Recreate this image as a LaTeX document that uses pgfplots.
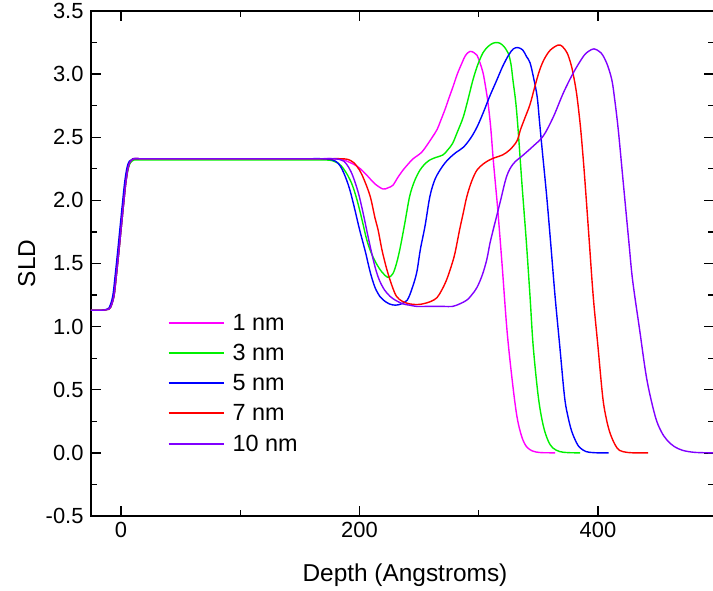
\documentclass[border=0pt]{standalone}
\usepackage{fontspec}
\setmainfont{Liberation Sans}
\usepackage{pgfplots}
\pgfplotsset{compat=1.18}
\definecolor{cpink}{RGB}{255,0,255}
\definecolor{cgreen}{RGB}{0,240,0}
\definecolor{cblue}{RGB}{0,0,255}
\definecolor{cred}{RGB}{255,0,0}
\definecolor{cpurple}{RGB}{128,0,255}
\begin{document}
\begin{tikzpicture}
\begin{axis}[
  at={(0,0)}, anchor=south west,
  scale only axis, width=623bp, height=505bp,
  xmin=-25.2, xmax=497.3, ymin=-0.5, ymax=3.5,
  xtick={0,200,400}, xticklabels={0,200,400},
  ytick={-0.5,0,0.5,1,1.5,2,2.5,3,3.5},
  yticklabels={-0.5,0.0,0.5,1.0,1.5,2.0,2.5,3.0,3.5},
  minor x tick num=1, minor y tick num=1,
  tick align=inside,
  major tick length=10bp, minor tick length=6bp,
  every tick/.style={black, line width=1.3bp},
  axis line style={line width=1.6bp},
  ticklabel style={font=\fontsize{22}{24}\selectfont},
  xticklabel style={yshift=-3bp},
  yticklabel style={xshift=-4bp},
  xlabel={Depth (Angstroms)}, ylabel={SLD},
  label style={font=\fontsize{24.5}{27}\selectfont},
  xlabel style={at={(axis description cs:0.504,-0.117)}, anchor=center},
  ylabel style={at={(axis description cs:-0.103,0.5)}, anchor=center},
  legend style={draw=none, fill=none, at={(axis description cs:0.118,0.408)}, anchor=north west,
     font=\fontsize{23.5}{26}\selectfont, row sep=8.5bp},
  legend cell align=left,
  legend image code/.code={\draw[#1, line width=2bp] (0bp,0bp) -- (55bp,0bp);},
  every axis plot/.append style={line width=1.4bp, smooth, tension=0.55},
]
% 1 nm
\addplot[cpink] coordinates {
(-30,1.13)(-20,1.13)(-15,1.13)(-12,1.135)(-9,1.15)(-6,1.24)(-4,1.40)(-2,1.58)(0,1.77)(2,1.96)(4,2.14)(6,2.26)(8,2.31)(11,2.33)(15,2.33)(22,2.33)(35,2.33)(55,2.33)(80,2.33)(110,2.33)(135,2.33)(155,2.33)(168,2.33)(177,2.33)
(185,2.325)(192,2.30)(198,2.27)(203,2.23)(208,2.18)(213,2.13)(219.7,2.09)(224,2.10)(228,2.12)(232,2.18)(236.5,2.24)(241,2.29)(245,2.33)(252,2.38)(257.5,2.45)(261,2.50)(265,2.56)(268,2.63)(271.7,2.72)(275,2.81)(278.4,2.90)(282,3.00)(286,3.09)(289,3.15)(292.7,3.18)(296,3.17)(298.5,3.15)(301,3.09)(303.6,3.01)(305.7,2.90)(307.8,2.77)(310,2.58)(312,2.34)(314,2.13)(316,1.92)(319.5,1.50)(323.7,0.97)(328,0.58)(332,0.29)(336,0.13)(340,0.05)(345,0.015)(351,0.003)(357,0.001)(364,0)
};
\addlegendentry{\hspace*{6bp}1 nm}
% 3 nm
\addplot[cgreen] coordinates {
(-30,1.13)(-20,1.13)(-15,1.13)(-12,1.135)(-9,1.15)(-6,1.24)(-4,1.40)(-2,1.58)(0,1.77)(2,1.96)(4,2.14)(6,2.25)(8,2.30)(11,2.32)(15,2.32)(22,2.32)(35,2.32)(55,2.32)(80,2.32)(110,2.32)(135,2.32)(155,2.32)(165,2.32)(172,2.32)
(177,2.315)(181,2.30)(185,2.27)(190,2.20)(194,2.12)(198,2.00)(202,1.85)(206,1.69)(210,1.58)(214.7,1.49)(219,1.43)(224,1.39)(228,1.42)(231,1.50)(234,1.62)(238,1.82)(242,2.03)(246,2.15)(250.7,2.24)(255,2.29)(259,2.32)(264,2.34)(270,2.36)(274,2.40)(278,2.45)(282,2.54)(287,2.66)(291,2.80)(295,2.95)(299,3.07)(303.6,3.17)(308,3.22)(312,3.245)(316,3.25)(320,3.23)(324.5,3.17)(327,3.08)(328.7,2.95)(331,2.78)(333,2.56)(336,2.16)(338,1.91)(340,1.66)(343,1.24)(345.7,0.84)(350,0.44)(354,0.22)(358,0.10)(362,0.04)(368,0.01)(375,0.002)(385,0)
};
\addlegendentry{\hspace*{6bp}3 nm}
% 5 nm
\addplot[cblue] coordinates {
(-30,1.13)(-21,1.13)(-16,1.13)(-13,1.135)(-10,1.15)(-7,1.24)(-5,1.40)(-3,1.58)(-1,1.77)(1,1.96)(3,2.14)(5,2.26)(7,2.31)(10,2.33)(15,2.33)(22,2.33)(35,2.33)(55,2.33)(80,2.33)(110,2.33)(135,2.33)(150,2.33)(160,2.33)(168,2.33)
(175,2.325)(180,2.31)(184,2.27)(188,2.19)(192,2.08)(196,1.93)(200,1.77)(205,1.59)(209,1.43)(213,1.31)(217,1.24)(220,1.21)(225,1.18)(230,1.17)(235,1.18)(240,1.21)(244,1.30)(248,1.43)(251,1.61)(255,1.80)(259,2.03)(263,2.16)(267.5,2.24)(272,2.30)(276,2.34)(281,2.38)(287,2.42)(293,2.49)(298.5,2.58)(304,2.70)(309,2.82)(315,2.95)(320,3.06)(325,3.15)(329,3.20)(333,3.21)(337,3.19)(340,3.14)(343,3.09)(346,2.97)(349,2.82)(351,2.62)(353,2.42)(357,2.03)(360.6,1.63)(364,1.24)(368,0.84)(372,0.44)(375,0.28)(378,0.17)(382,0.08)(385,0.04)(390,0.01)(396,0.002)(402,0)(409,0)
};
\addlegendentry{\hspace*{6bp}5 nm}
% 7 nm
\addplot[cred] coordinates {
(-30,1.13)(-20,1.13)(-15,1.13)(-12,1.135)(-9,1.15)(-6,1.24)(-4,1.40)(-2,1.58)(0,1.77)(2,1.96)(4,2.14)(6,2.26)(8,2.31)(11,2.33)(15,2.33)(22,2.33)(35,2.33)(55,2.33)(80,2.33)(110,2.33)(135,2.33)(155,2.33)(168,2.33)(177,2.33)
(184,2.33)(190,2.325)(195,2.30)(200,2.24)(204,2.16)(209,2.03)(213,1.86)(215.5,1.77)(219,1.60)(223,1.45)(227,1.33)(231,1.24)(236,1.20)(242,1.18)(248,1.175)(253,1.18)(260,1.20)(265,1.23)(269,1.29)(273,1.37)(277,1.48)(280,1.58)(284,1.77)(287,1.90)(290,2.03)(294,2.15)(298.5,2.24)(304,2.29)(309,2.32)(314,2.34)(320,2.36)(326,2.40)(332,2.47)(335,2.56)(339,2.66)(343,2.76)(347,2.90)(351,3.03)(355,3.12)(360,3.19)(366.5,3.23)(370,3.22)(374,3.17)(377,3.09)(379,3.01)(382,2.85)(385,2.61)(387,2.40)(389,2.16)(392.5,1.70)(396,1.24)(400,0.84)(404,0.44)(407,0.27)(410,0.16)(414,0.07)(418,0.02)(425,0.003)(433,0)(442,0)
};
\addlegendentry{\hspace*{6bp}7 nm}
% 10 nm
\addplot[cpurple] coordinates {
(-30,1.13)(-20,1.13)(-15,1.13)(-12,1.135)(-9,1.15)(-6,1.24)(-4,1.40)(-2,1.58)(0,1.77)(2,1.96)(4,2.14)(6,2.26)(8,2.31)(11,2.33)(15,2.33)(22,2.33)(35,2.33)(55,2.33)(80,2.33)(110,2.33)(135,2.33)(155,2.33)(165,2.33)(172,2.33)
(178,2.33)(183,2.325)(187,2.31)(191,2.26)(194.5,2.19)(199,2.06)(203,1.90)(207,1.72)(211,1.55)(214,1.44)(217,1.36)(221,1.29)(225.6,1.24)(230,1.21)(236.5,1.18)(242,1.17)(248,1.16)(256,1.16)(264,1.16)(271,1.16)(278,1.16)(284,1.18)(290,1.21)(294,1.25)(298.5,1.31)(303,1.41)(306.7,1.53)(309.4,1.66)(312.2,1.77)(317.8,1.98)(323.4,2.19)(329,2.29)(337.4,2.36)(345.7,2.43)(354.1,2.51)(362.5,2.66)(370.9,2.85)(379.3,3.01)(387.7,3.14)(392,3.18)(396.6,3.20)(401,3.18)(404,3.15)(408,3.07)(411.7,2.95)(414,2.80)(417,2.56)(421,2.16)(426,1.66)(429,1.37)(435,0.97)(441,0.58)(448,0.29)(453,0.17)(458,0.10)(464,0.05)(471,0.02)(480,0.005)(490,0.001)(500,0)
};
\addlegendentry{\hspace*{6bp}10 nm}
\end{axis}
\pgfresetboundingbox
\path (-91bp,-75bp) rectangle (622bp,516bp);
\end{tikzpicture}
\end{document}
